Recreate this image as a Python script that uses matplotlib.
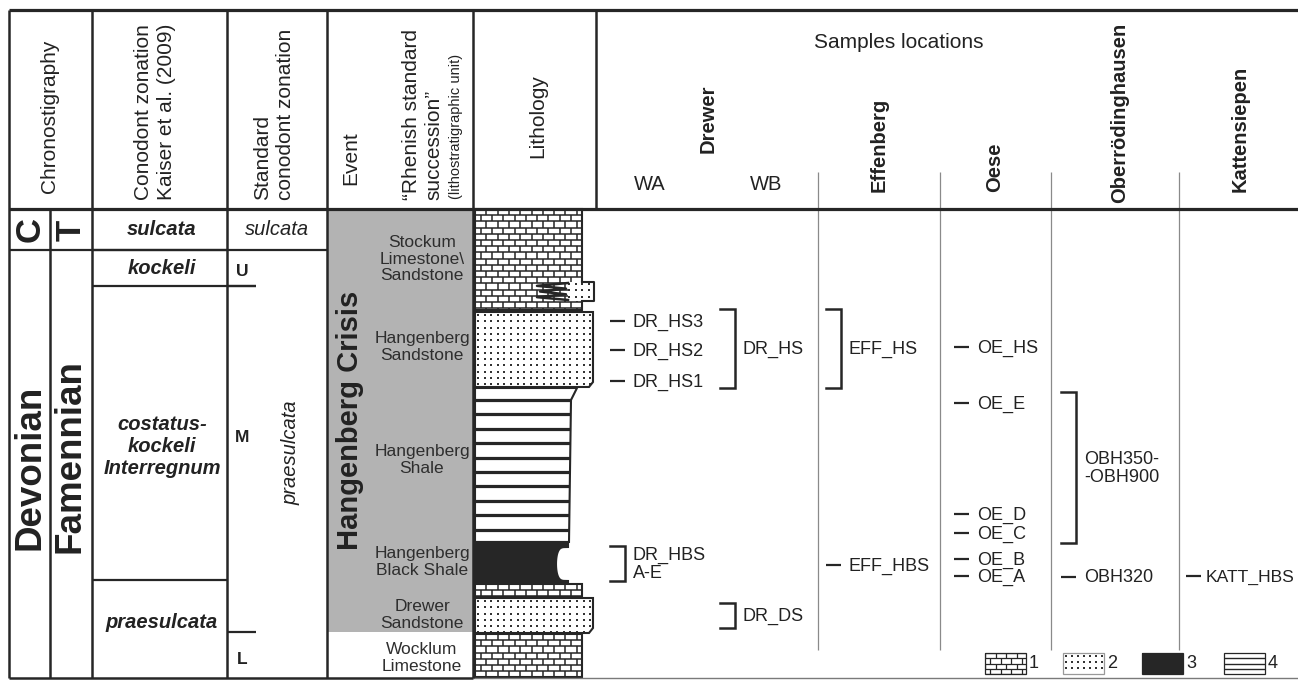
import numpy as np
import matplotlib
matplotlib.use("Agg")
import matplotlib.pyplot as plt
from matplotlib.patches import Rectangle, Polygon
from matplotlib.collections import LineCollection

plt.rcParams["font.family"] = ["Liberation Sans", "DejaVu Sans"]

# ------------------------------------------------------------------ content
# Depths are given in section units running downwards (top of column = 209).
kaiser_zones = ["sulcata", "kockeli", "costatus-\nkockeli\nInterregnum", "praesulcata"]
kaiser_tops = [209, 250, 286, 580]
kaiser_bases = [250, 286, 580, 678]

standard_zones = ["sulcata", "praesulcata"]
standard_tops = [209, 250]
standard_bases = [250, 678]

subzones = ["U", "M", "L"]
subzone_tops = [250, 286, 632]
subzone_bases = [286, 632, 678]

event_name = "Hangenberg Crisis"
event_top, event_base = 209, 632

rhenish_units = ["Stockum\nLimestone\\\nSandstone", "Hangenberg\nSandstone",
                 "Hangenberg\nShale", "Hangenberg\nBlack Shale",
                 "Drewer\nSandstone", "Wocklum\nLimestone"]
rhenish_depths = [259, 347, 460, 562, 615, 658]

bed_types = ["limestone", "sandstone", "shale", "black shale",
             "limestone", "sandstone", "limestone"]
bed_tops = [209, 312, 388, 542, 584, 598, 634]
bed_bases = [310, 387, 542, 583, 597, 633, 677]
lens_top, lens_base = 282, 301   # sandstone tongue inside Stockum Limestone

sites = ["WA", "WB", "Effenberg", "Oese", "Oberrödinghausen", "Kattensiepen"]

point_samples = ["DR_HS3", "DR_HS2", "DR_HS1", "OE_HS", "OE_E", "OE_D",
                 "OE_C", "OE_B", "OE_A", "EFF_HBS", "OBH320", "KATT_HBS"]
point_sites = ["WA", "WA", "WA", "Oese", "Oese", "Oese",
               "Oese", "Oese", "Oese", "Effenberg", "Oberrödinghausen", "Kattensiepen"]
point_depths = [321, 350, 381, 347, 403, 514, 533, 559, 576, 565, 577, 576]

range_samples = ["DR_HS", "EFF_HS", "OBH350-\n-OBH900", "DR_HBS\nA-E", "DR_DS"]
range_sites = ["WB", "Effenberg", "Oberrödinghausen", "WA", "WB"]
range_tops = [309, 309, 392, 546, 603]
range_bases = [388, 388, 543, 581, 628]

legend_types = ["limestone", "sandstone", "black shale", "shale"]
legend_labels = ["1", "2", "3", "4"]

# ------------------------------------------------------------------ layout
W, H = 1298, 680
TOP, HEAD, BASE = 10, 209, 678
X_LEFT, X_STAGE, X_KAISER, X_STD, X_EVENT, X_LITH, X_SAMPLES = 9, 50, 92, 227, 327, 473, 596
LITH_L = 475
site_x = {"WA": 610, "WB": 720, "Effenberg": 826, "Oese": 954,
          "Oberrödinghausen": 1061, "Kattensiepen": 1186}
site_dividers = [818, 940, 1051, 1179]

INK = "#262626"
TXT = "#222222"
GRAY = "#b3b3b3"
THIN = "#8a8a8a"

fig = plt.figure(figsize=(W / 100, H / 100), dpi=100)
ax = fig.add_axes([0, 0, 1, 1])
ax.set_xlim(0, W)
ax.set_ylim(H, 0)
ax.axis("off")


def hline(y, x0, x1, lw=1.6, color=INK, z=5):
    ax.plot([x0, x1], [y, y], color=color, lw=lw, solid_capstyle="butt", zorder=z)


def vline(x, y0, y1, lw=1.6, color=INK, z=5):
    ax.plot([x, x], [y0, y1], color=color, lw=lw, solid_capstyle="butt", zorder=z)


def txt(x, y, s, size=14.5, rot=0, ha="center", va="center", weight="normal",
        style="normal", color=TXT, ls=1.2, ma="center", z=8):
    ax.text(x, y, s, fontsize=size, rotation=rot, ha=ha, va=va, fontweight=weight,
            fontstyle=style, color=color, linespacing=ls, multialignment=ma, zorder=z)


# ---------------------------------------------------------- lithology fills
def brick_fill(patch, x0, x1, y0, y1, dy=6.2, dx=11.3, lw=1.1, z=3):
    segs = []
    row = 0
    y = y0
    while y < y1 + dy:
        segs.append([(x0 - 2, y), (x1 + 2, y)])
        x = x0 + (dx / 2 if row % 2 else 0)
        while x < x1 + 2:
            segs.append([(x, y), (x, y + dy)])
            x += dx
        y += dy
        row += 1
    lc = LineCollection(segs, colors=INK, linewidths=lw, zorder=z)
    ax.add_collection(lc)
    lc.set_clip_path(patch)


def dot_fill(patch, x0, x1, y0, y1, step_x=6.6, step_y=6.3, size=1.6, z=3):
    xs = np.arange(x0 + 3, x1, step_x)
    ys = np.arange(y0 + 3, y1, step_y)
    gx, gy = np.meshgrid(xs, ys)
    sc = ax.scatter(gx.ravel(), gy.ravel(), s=size, c="#333333", marker="s",
                    linewidths=0, zorder=z)
    sc.set_clip_path(patch)


def stripe_fill(patch, x0, x1, y0, y1, step=14.4, lw=2.3):
    ys = np.arange(y0 + 12, y1 - 6, step)
    segs = [[(x0 - 2, y), (x1 + 2, y)] for y in ys]
    lc = LineCollection(segs, colors=INK, linewidths=lw, zorder=3)
    ax.add_collection(lc)
    lc.set_clip_path(patch)


def bed_outline(kind, top, base):
    if kind == "limestone":
        return [(LITH_L, top), (582, top), (582, base), (LITH_L, base)]
    if kind == "sandstone":
        return [(LITH_L, top), (593, top), (593, base - 5), (589, base), (LITH_L, base)]
    if kind == "shale":
        return [(LITH_L, top), (577, top), (571, top + 12), (569, base), (LITH_L, base)]
    # black shale: weathered-out notch on the right-hand side
    a = np.linspace(-np.pi / 2, np.pi / 2, 30)
    mid, half = (top + base + 3) / 2, (base - top - 7) / 2
    notch = [(568 - 12 * np.cos(t) ** 0.45, mid + half * np.sin(t)) for t in a]
    return [(LITH_L, top), (568, top)] + notch + [(568, base), (LITH_L, base)]


def draw_bed(kind, pts, lw=1.5):
    xs = [p[0] for p in pts]
    ys = [p[1] for p in pts]
    face = INK if kind == "black shale" else "white"
    poly = Polygon(pts, closed=True, facecolor=face, edgecolor="none", zorder=2)
    ax.add_patch(poly)
    if kind == "limestone":
        brick_fill(poly, min(xs), max(xs), min(ys), max(ys))
    elif kind == "sandstone":
        dot_fill(poly, min(xs), max(xs), min(ys), max(ys))
    elif kind == "shale":
        stripe_fill(poly, min(xs), max(xs), min(ys), max(ys))
    ax.add_patch(Polygon(pts, closed=True, facecolor="none", edgecolor=INK,
                         lw=lw, zorder=4, joinstyle="miter"))


for kind, top, base in zip(bed_types, bed_tops, bed_bases):
    draw_bed(kind, bed_outline(kind, top, base))

# sandstone tongue interfingering with the Stockum Limestone
lens = [(568, lens_top), (594, lens_top), (594, lens_base), (568, lens_base)]
lens_poly = Polygon(lens, closed=True, facecolor="white", edgecolor="none", zorder=4.5)
ax.add_patch(lens_poly)
dot_fill(lens_poly, 566, 594, lens_top - 1, lens_base, z=4.6)
ax.plot([582, 594, 594, 582], [lens_top, lens_top, lens_base, lens_base],
        color=INK, lw=1.5, zorder=5)
zz_y = np.linspace(lens_top + 1, lens_base - 1, 7)
zz_x = [568, 537, 566, 540, 566, 537, 568]
ax.plot(zz_x, zz_y, color=INK, lw=1.8, zorder=6)

vline(474, HEAD, BASE, lw=2.0)

# ------------------------------------------------------------- event column
ax.add_patch(Rectangle((X_EVENT, event_top), X_LITH - X_EVENT, event_base - event_top,
                       facecolor=GRAY, edgecolor="none", zorder=1))
txt(350, (event_top + event_base) / 2, event_name, size=21, rot=90, weight="bold")
for unit, d in zip(rhenish_units, rhenish_depths):
    txt(422, d, unit, size=12.5, color="#2e2e2e", ls=1.15)

# -------------------------------------------------------- chronostratigraphy
txt(30, 230, "C", size=25, rot=90, weight="bold")
txt(71, 230, "T", size=25, rot=90, weight="bold")
txt(30, 467, "Devonian", size=26.5, rot=90, weight="bold")
txt(70, 456, "Famennian", size=26.5, rot=90, weight="bold")

# --------------------------------------------------------- conodont zonation
kaiser_label_shift = [0, 1, 14, -7]
for name, t, b, sh in zip(kaiser_zones, kaiser_tops, kaiser_bases, kaiser_label_shift):
    txt(162, (t + b) / 2 + sh, name, size=14.5, weight="bold", style="italic", ls=1.2)
    if b < BASE:
        hline(b, X_KAISER, X_STD)

txt(277, (standard_tops[0] + standard_bases[0]) / 2, standard_zones[0],
    size=14.5, style="italic")
txt(291, 453, standard_zones[1], size=14.5, style="italic", rot=90)
sub_label_y = [272, 437, 659]
for name, t, b, yy in zip(subzones, subzone_tops, subzone_bases, sub_label_y):
    txt(242, yy, name, size=12.5, weight="bold")
    if t > standard_tops[1]:
        hline(t, X_STD, 256)
hline(286, X_STD, 256)

hline(250, X_LEFT, X_EVENT)

# ------------------------------------------------------------ table frame
hline(TOP, X_LEFT, W, lw=2.3)
hline(HEAD, X_LEFT, W, lw=2.3, z=6)
hline(BASE, X_LEFT, X_LITH, lw=1.8)
hline(BASE, X_LITH, W, lw=1.0, color="#7a7a7a")
for x in [X_LEFT, X_KAISER, X_STD, X_EVENT, X_LITH]:
    vline(x, TOP, BASE, lw=1.8)
vline(X_STAGE, HEAD, BASE, lw=1.8)
vline(X_SAMPLES, TOP, HEAD, lw=1.8)
for x in site_dividers:
    vline(x, 172, 650, lw=0.9, color=THIN, z=4)

# ---------------------------------------------------------------- headers
txt(50, 116, "Chronostigraphy", size=15, rot=90)
txt(155, 200, "Conodont zonation\nKaiser et al. (2009)", size=15, rot=90,
    va="bottom", ma="left", ls=1.25)
txt(274, 200, "Standard\nconodont zonation", size=15, rot=90, va="bottom", ma="left", ls=1.25)
txt(351, 185, "Event", size=15, rot=90, va="bottom")
txt(423, 200, "\u201cRhenish standard\nsuccession\u201d", size=15, rot=90,
    va="bottom", ma="left", ls=1.25)
txt(456, 199, "(lithostratigraphic unit)", size=10.5, rot=90, va="bottom")
txt(538, 116, "Lithology", size=15, rot=90)
txt(899, 42, "Samples locations", size=15)
txt(708, 153, "Drewer", size=14.5, rot=90, va="bottom", weight="bold")
txt(650, 184, "WA", size=14.5)
txt(766, 184, "WB", size=14.5)
txt(879, 192, "Effenberg", size=14.5, rot=90, va="bottom", weight="bold")
txt(995, 192, "Oese", size=14.5, rot=90, va="bottom", weight="bold")
txt(1120, 203, "Oberrödinghausen", size=14.5, rot=90, va="bottom", weight="bold")
txt(1240, 192, "Kattensiepen", size=14.5, rot=90, va="bottom", weight="bold")

# ---------------------------------------------------------------- samples
for name, site, d in zip(point_samples, point_sites, point_depths):
    x0 = site_x[site]
    ax.plot([x0, x0 + 15], [d, d], color=INK, lw=1.6, solid_capstyle="butt", zorder=6)
    gap = 20 if site == "Kattensiepen" else 23
    size = 12.6 if site == "Kattensiepen" else 13
    txt(x0 + gap, d + 1, name, size=size, ha="left")

for name, site, t, b in zip(range_samples, range_sites, range_tops, range_bases):
    x0 = site_x[site]
    ax.plot([x0, x0 + 15, x0 + 15, x0], [t, t, b, b], color=INK, lw=1.8,
            solid_joinstyle="miter", zorder=6)
    txt(x0 + 23, (t + b) / 2 + 1, name, size=13, ha="left", ma="left", ls=1.05)

# ----------------------------------------------------------------- legend
legend_x = [985, 1063, 1142, 1224]
for kind, lab, x0 in zip(legend_types, legend_labels, legend_x):
    y0, y1, x1 = 653, 674, x0 + 41
    pts = [(x0, y0), (x1, y0), (x1, y1), (x0, y1)]
    face = INK if kind == "black shale" else "white"
    poly = Polygon(pts, closed=True, facecolor=face, edgecolor="none", zorder=2)
    ax.add_patch(poly)
    if kind == "limestone":
        brick_fill(poly, x0, x1, y0, y1, dy=5.25, dx=10.5, lw=0.9)
    elif kind == "sandstone":
        dot_fill(poly, x0, x1, y0, y1, step_x=6.0, step_y=6.0, size=1.0)
    elif kind == "shale":
        segs = [[(x0, y), (x1, y)] for y in np.linspace(y0 + 5, y1 - 5, 3)]
        ax.add_collection(LineCollection(segs, colors=INK, linewidths=1.0, zorder=3))
    edge = "#999999" if kind == "sandstone" else INK
    ax.add_patch(Polygon(pts, closed=True, facecolor="none", edgecolor=edge, lw=0.9, zorder=4))
    txt(x1 + 3, 664, lab, size=13, ha="left")

fig.savefig("out.png", dpi=100, facecolor="white")
